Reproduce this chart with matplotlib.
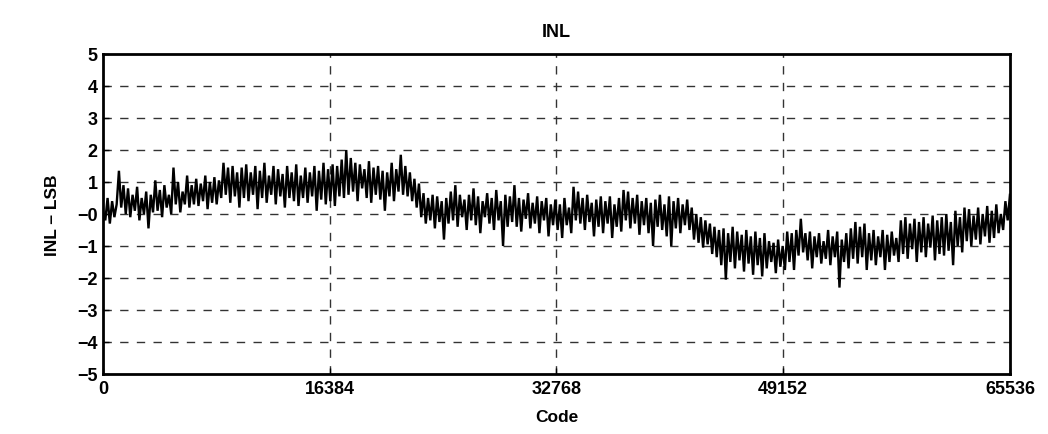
import numpy as np
import matplotlib
matplotlib.use("Agg")
from matplotlib import pyplot as plt

# INL trace (LSB), evenly spread over the code range
inl = [
    0.1, -0.2, 0.5, -0.3, 0.4, -0.1, 0.3, 1.35, 0.2, 0.9,
    0.0, 0.8, -0.1, 0.6, 0.1, 0.85, -0.2, 0.5, 0.0, 0.7,
    -0.45, 0.6, 0.05, 1.05, 0.1, 0.75, -0.1, 0.9, 0.2, 0.6,
    0.0, 1.45, 0.3, 1.0, 0.05, 0.7, 0.3, 1.2, 0.2, 0.9,
    0.3, 1.1, 0.25, 0.95, 0.4, 1.2, 0.15, 1.0, 0.35, 1.15,
    0.3, 1.05, 0.5, 1.6, 0.6, 1.45, 0.35, 1.5, 0.55, 1.3,
    0.2, 1.45, 0.5, 1.55, 0.4, 1.3, 0.6, 1.5, 0.15, 1.35,
    0.5, 1.6, 0.35, 1.2, 0.6, 1.5, 0.3, 1.4, 0.55, 1.25,
    0.2, 1.5, 0.5, 1.3, 0.4, 1.55, 0.25, 1.2, 0.5, 1.45,
    0.35, 1.3, 0.55, 1.5, 0.1, 1.35, 0.45, 1.6, 0.3, 1.4,
    0.4, 1.55, 0.25, 1.5, 0.55, 1.7, 0.5, 2.0, 0.6, 1.75,
    0.7, 1.6, 0.4, 1.55, 0.8, 1.4, 0.5, 1.65, 0.35, 1.45,
    0.6, 1.5, 0.45, 1.35, 0.1, 1.3, 0.55, 1.6, 0.4, 1.4,
    0.7, 1.85, 0.6, 1.5, 0.55, 1.3, 0.4, 1.1, 0.2, 0.95,
    -0.1, 0.65, -0.3, 0.5, -0.2, 0.6, -0.45, 0.55, -0.25, 0.4,
    -0.8, 0.5, -0.3, 0.7, -0.2, 0.9, -0.4, 0.6, -0.1, 0.45,
    -0.5, 0.6, -0.2, 0.8, -0.35, 0.55, -0.6, 0.4, -0.1, 0.65,
    -0.3, 0.5, -0.5, 0.75, -0.2, 0.4, -1.0, 0.6, -0.4, 0.55,
    -0.25, 0.9, -0.4, 0.5, -0.55, 0.45, -0.15, 0.65, -0.45, 0.35,
    -0.3, 0.55, -0.6, 0.4, -0.2, 0.5, -0.7, 0.3, -0.35, 0.45,
    -0.5, 0.3, -0.75, 0.5, -0.35, 0.2, -0.6, 0.85, -0.2, 0.7,
    -0.3, 0.5, -0.5, 0.6, -0.25, 0.35, -0.7, 0.45, -0.4, 0.55,
    -0.6, 0.4, -0.3, 0.55, -0.75, 0.3, -0.4, 0.5, -0.55, 0.75,
    -0.2, 0.7, -0.45, 0.5, -0.3, 0.6, -0.65, 0.4, -0.35, 0.5,
    -0.6, 0.35, -1.0, 0.45, -0.4, 0.6, -0.5, 0.3, -0.7, 0.55,
    -1.0, 0.4, -0.45, 0.5, -0.6, 0.3, -0.35, 0.45, -0.5, 0.2,
    -0.8, 0.0, -0.9, -0.1, -1.05, -0.2, -0.95, -0.3, -1.25, -0.4,
    -1.35, -0.5, -1.6, -0.45, -2.05, -0.6, -1.5, -0.4, -1.7, -0.55,
    -1.45, -0.65, -1.8, -0.5, -1.55, -0.7, -1.9, -0.55, -1.6, -0.75,
    -1.95, -0.6, -1.7, -0.85, -1.5, -0.9, -1.85, -0.8, -1.65, -1.0,
    -1.75, -0.55, -1.5, -0.6, -1.75, -0.5, -1.3, -0.15, -1.2, -0.6,
    -1.45, -0.55, -1.7, -0.7, -1.35, -0.6, -1.55, -0.85, -1.4, -0.5,
    -1.6, -0.7, -1.35, -0.55, -2.3, -0.8, -1.5, -0.6, -1.7, -0.45,
    -1.4, -0.25, -1.55, -0.4, -1.35, -0.3, -1.75, -0.6, -1.45, -0.5,
    -1.6, -0.7, -1.35, -0.5, -1.75, -0.65, -1.5, -0.55, -1.3, -0.75,
    -1.5, -0.2, -1.25, -0.1, -1.4, -0.3, -1.1, -0.15, -1.5, -0.25,
    -1.2, -0.1, -1.35, -0.3, -1.05, -0.05, -1.45, -0.2, -1.25, -0.1,
    -1.3, 0.0, -1.15, -0.25, -1.6, 0.1, -1.0, -0.1, -1.2, 0.2,
    -0.85, 0.15, -1.0, -0.05, -0.8, 0.2, -0.95, 0.0, -0.7, 0.25,
    -0.9, 0.1, -0.75, 0.3, -0.6, 0.0, -0.5, 0.4, -0.2, 0.6,
]
codes = np.linspace(0, 65535, len(inl))

xticks = [0, 16384, 32768, 49152, 65536]
yticks = [-5, -4, -3, -2, -1, 0, 1, 2, 3, 4, 5]
ylabels = ['\u22125', '\u22124', '\u22123', '\u22122', '\u22121', '\u22120',
           '1', '2', '3', '4', '5']

plt.rcParams['font.family'] = ['Liberation Sans', 'DejaVu Sans']
plt.rcParams['font.weight'] = 'bold'

fig = plt.figure(figsize=(10.48, 4.35), dpi=100)
ax = fig.add_axes([0.0983, 0.138, 0.8654, 0.7356])

ax.plot(codes, inl, color='black', lw=1.7, solid_joinstyle='miter')

ax.set_xlim(0, 65536)
ax.set_ylim(-5, 5)
ax.set_xticks(xticks)
ax.set_xticklabels([str(t) for t in xticks])
ax.set_yticks(yticks)
ax.set_yticklabels(ylabels)
ax.tick_params(direction='in', length=4, width=1, labelsize=13, pad=4)
for lab in ax.get_xticklabels() + ax.get_yticklabels():
    lab.set_fontweight('bold')

# dashed grid, skipping the frame edges
for y in yticks[1:-1]:
    ax.axhline(y, color='#333333', lw=1, ls=(0, (6, 6)), zorder=0)
for x in xticks[1:-1]:
    ax.axvline(x, color='#333333', lw=1, ls=(0, (6, 6)), zorder=0)

for sp in ax.spines.values():
    sp.set_linewidth(2)

ax.set_title('INL', fontsize=13, fontweight='bold', pad=13)
ax.set_xlabel('Code', fontsize=12.5, fontweight='bold', labelpad=9)
ax.set_ylabel('INL \u2013 LSB', fontsize=12.5, fontweight='bold', labelpad=12)

fig.savefig('out.png', dpi=100)
